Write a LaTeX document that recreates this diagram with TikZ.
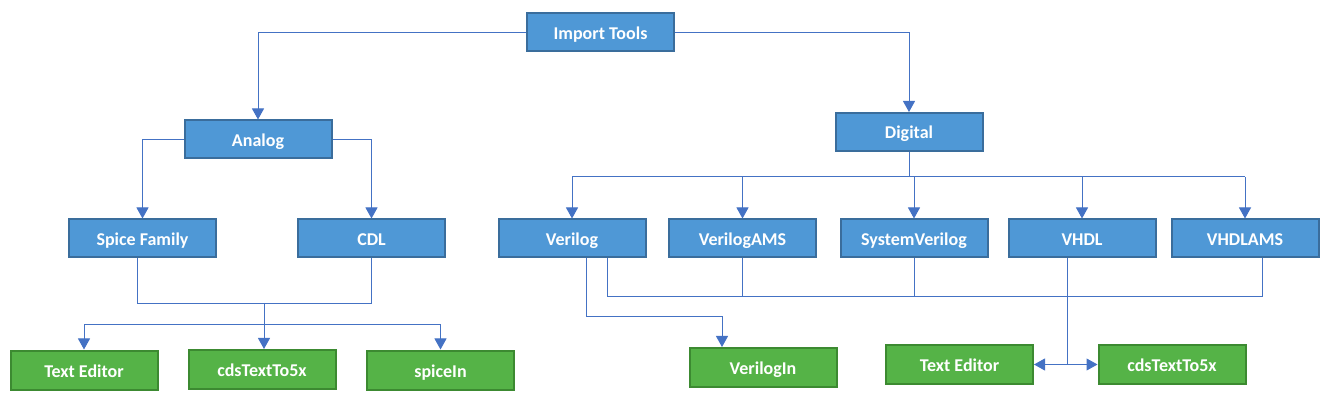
\documentclass[tikz,border=0pt]{standalone}
\usepackage{fontspec}
\setmainfont{Carlito}
\usepackage{xcolor}
\usepackage{tikz}
\usetikzlibrary{arrows.meta, positioning, calc}

\definecolor{toolblue}{HTML}{4F98D6}
\definecolor{toolblueline}{HTML}{3A6D9C}
\definecolor{toolgreen}{HTML}{55B347}
\definecolor{toolgreenline}{HTML}{3C8A31}
\definecolor{linkblue}{HTML}{4472C4}

\begin{document}
\begin{tikzpicture}[
    x=1pt, y=1pt,
    format/.style={rectangle, draw=toolblueline, fill=toolblue, line width=2pt, minimum width=147pt, minimum height=38pt, text height=16pt, text depth=2pt, text=white, font=\fontsize{18}{21}\selectfont\bfseries},
    tool/.style={rectangle, draw=toolgreenline, fill=toolgreen, line width=2pt, minimum width=147pt, minimum height=39pt, text height=16pt, text depth=2pt, text=white, font=\fontsize{18}{21}\selectfont\bfseries},
    link/.style={draw=linkblue, line width=1pt},
    arrow/.style={link, -{Triangle[width=12pt,length=11pt]}}
]
    \useasboundingbox (0,0) rectangle (1320,-403);

    \node[format] (imp) at (600.5,-32.5) {Import Tools};
    \node[format] (analog) at (258,-139.5) {Analog};
    \node[format] (digital) at (909,-132) {Digital};

    \node[format] (spice) at (142.5,-238.5) {Spice Family};
    \node[format] (cdl) at (371.5,-238.5) {CDL};

    \node[format] (verilog) at (572,-238.5) {Verilog};
    \node[format] (vams) at (742.5,-238.5) {VerilogAMS};
    \node[format] (sysv) at (914,-238.5) {SystemVerilog};
    \node[format] (vhdl) at (1082,-238.5) {VHDL};
    \node[format] (vhdlams) at (1245,-238.5) {VHDLAMS};

    \node[tool] (editA) at (84,-370) {Text Editor};
    \node[tool] (cdsA) at (262,-369.5) {cdsTextTo5x};
    \node[tool] (spicein) at (440.5,-370) {spiceIn};
    \node[tool] (vlogin) at (763,-367.5) {VerilogIn};
    \node[tool] (editD) at (959.5,-364.5) {Text Editor};
    \node[tool] (cdsD) at (1172,-364.5) {cdsTextTo5x};

    \draw[arrow] (imp.west) -| (analog.north);
    \draw[arrow] (imp.east) -| (digital.north);
    \draw[arrow] (analog.west) -| (spice.north);
    \draw[arrow] (analog.east) -| (cdl.north);

    % digital fan out
    \coordinate (dbus) at (0,-177);
    \draw[link] (digital.south) -- (digital.south |- dbus);
    \draw[link] (verilog.north |- dbus) -- (vhdlams.north |- dbus);
    \foreach \n in {verilog, vams, sysv, vhdl, vhdlams}
        \draw[arrow] (\n.north |- dbus) -- (\n.north);

    % analog formats to their tools
    \draw[link] ([xshift=-5pt]spice.south) |- ($(cdl.south)+(0,-45)$) -- (cdl.south);
    \coordinate (amid) at (264,-303);
    \coordinate (abus) at (0,-325);
    \draw[link] (amid) -- (amid |- abus);
    \draw[link] (editA.north |- abus) -- (spicein.north |- abus);
    \foreach \n in {editA, spicein}
        \draw[arrow] (\n.north |- abus) -- (\n.north);
    \draw[arrow] (amid |- abus) -- (amid |- cdsA.north);

    % digital formats to their tools
    \draw[arrow] ([xshift=14pt]verilog.south) |- ($([xshift=-41pt]vlogin.north)+(0,30)$) -- ([xshift=-41pt]vlogin.north);
    \draw[link] ([xshift=35pt]verilog.south) |- ($([xshift=17pt]vhdlams.south)+(0,-38)$) -- ([xshift=17pt]vhdlams.south);
    \draw[link] (vams.south) -- ++(0,-38);
    \draw[link] (sysv.south) -- ++(0,-38);
    \draw[link] ([xshift=-15pt]vhdl.south) -- ([xshift=-15pt]vhdl.south |- editD.east) coordinate (vjoin);
    \draw[arrow] (vjoin) -- (editD.east);
    \draw[arrow] (vjoin) -- (cdsD.west);
\end{tikzpicture}
\end{document}
